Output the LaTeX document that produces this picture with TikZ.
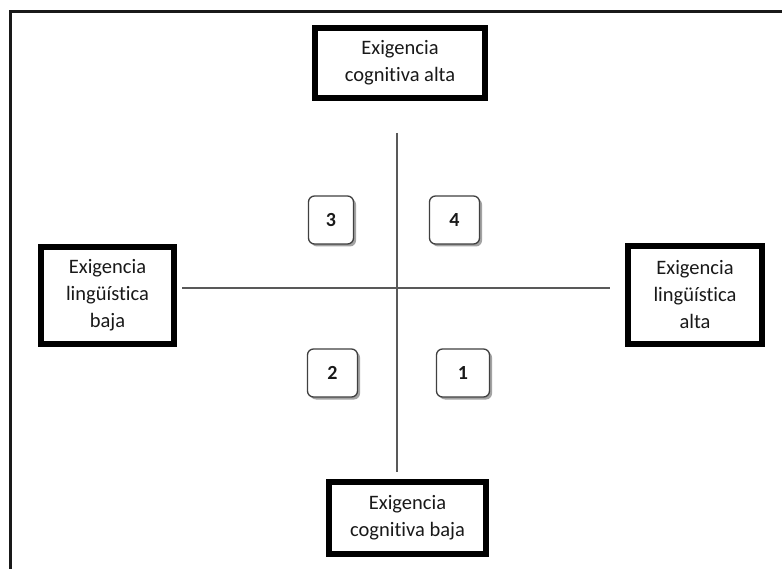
\documentclass[tikz,border=0pt]{standalone}
\usepackage{fontspec}
\setmainfont[Ligatures={NoCommon}, RawFeature={-liga;-clig}]{Carlito}
\usetikzlibrary{shadows}

\begin{document}
\begin{tikzpicture}[
    x=1pt, y=-1pt,
    % Node styles
    bigbox/.style={
        rectangle, draw=black, fill=white, line width=6pt,
        align=center, text=black!90, inner sep=0pt,
        font=\fontsize{20.5}{27}\selectfont
    },
    quadbox/.style={
        rectangle, rounded corners=6pt, draw=black!75, fill=white,
        line width=1.3pt, minimum height=48pt, text=black!90,
        font=\fontsize{20}{24}\selectfont\bfseries,
        drop shadow={shadow xshift=2.5pt, shadow yshift=-2.5pt,
            fill=black!45, opacity=0.8}
    },
    axis/.style={line width=1.5pt, draw=black!65},
    frame/.style={line width=3pt, draw=black!90},
]
\useasboundingbox (0,0) rectangle (782,569);

% ═══════════════════════════════════════════════════════════════
% Outer frame (only top and left edges visible)
% ═══════════════════════════════════════════════════════════════
\draw[frame] (10,569) |- (782,12);

% ═══════════════════════════════════════════════════════════════
% Pole boxes
% ═══════════════════════════════════════════════════════════════
\node[bigbox, minimum width=170pt, minimum height=70pt] (CA) at (400,63) {
    Exigencia\\cognitiva alta
};
\node[bigbox, minimum width=157pt, minimum height=72pt] (CB) at (407.5,518) {
    Exigencia\\cognitiva baja
};
\node[bigbox, minimum width=133pt, minimum height=97pt] (LB) at (107.5,295.5) {
    Exigencia\\lingüística\\baja
};
\node[bigbox, minimum width=134pt, minimum height=98pt] (LA) at (695,295) {
    Exigencia\\lingüística\\alta
};

% ═══════════════════════════════════════════════════════════════
% Axes
% ═══════════════════════════════════════════════════════════════
\coordinate (axL) at (182,288);
\coordinate (axR) at (610,288);
\coordinate (axT) at (397,133);
\coordinate (axB) at (397,472);

\draw[axis] (axL) -- (axR);
\draw[axis] (axT) -- (axB);

% ═══════════════════════════════════════════════════════════════
% Quadrant labels
% ═══════════════════════════════════════════════════════════════
\node[quadbox, minimum width=45pt] (Q3) at (331,220) {3};
\node[quadbox, minimum width=50pt] (Q4) at (454.5,220) {4};
\node[quadbox, minimum width=50pt] (Q2) at (332.5,373) {2};
\node[quadbox, minimum width=53pt] (Q1) at (463,373) {1};

\end{tikzpicture}
\end{document}
